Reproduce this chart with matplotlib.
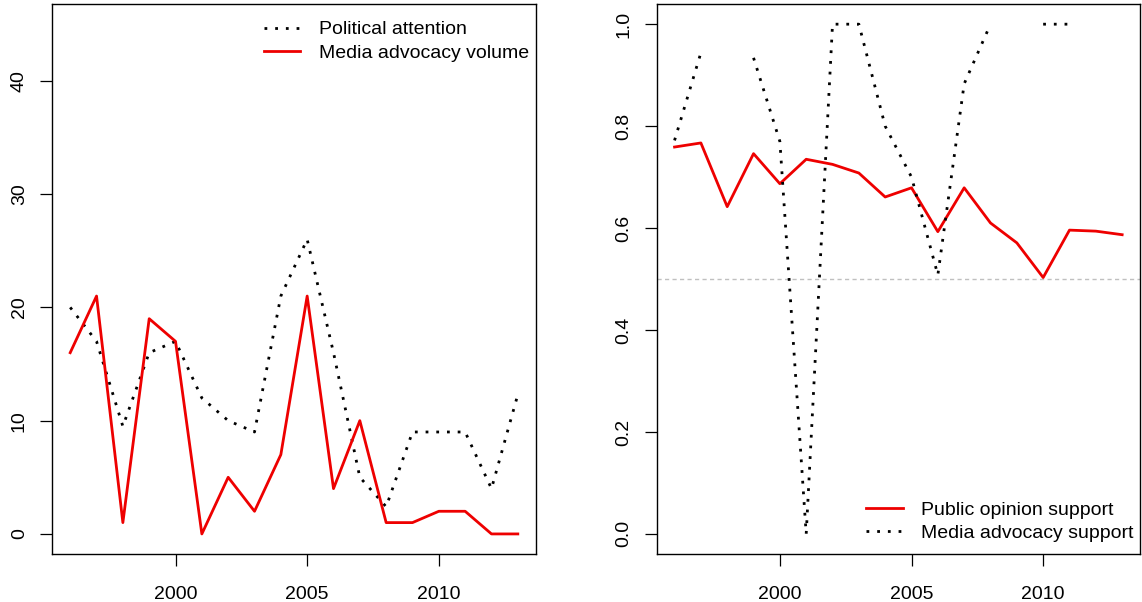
import numpy as np
import matplotlib
matplotlib.use("Agg")
import matplotlib.pyplot as plt

plt.rcParams['font.family'] = ['Liberation Sans', 'DejaVu Sans']

years = list(range(1996, 2014))

# left panel
political_attention = [20, 17, 9.5, 16, 17, 12, 10, 9, 21, 26, 16, 5, 2.4, 9, 9, 9, 4, 12.3]
advocacy_volume = [16, 21, 1, 19, 17, 0, 5, 2, 7, 21, 4, 10, 1, 1, 2, 2, 0, 0]

# right panel (nan = no value)
public_support = [0.759, 0.767, 0.642, 0.746, 0.687, 0.735, 0.725, 0.708, 0.661,
                  0.679, 0.593, 0.679, 0.610, 0.571, 0.503, 0.596, 0.594, 0.587]
advocacy_support = [0.772, 0.944, np.nan, 0.934, 0.77, 0.0, 1.0, 1.0, 0.80,
                    0.70, 0.508, 0.883, 1.0, np.nan, 1.0, 1.0, np.nan, np.nan]

red = '#ee0000'
dotted = (0, (1, 2.85))
fs = 14

fig = plt.figure(figsize=(11.42, 6.02), dpi=100)
ax1 = fig.add_axes([0.0458, 0.0792, 0.4233, 0.9145])
ax2 = fig.add_axes([0.5750, 0.0792, 0.4233, 0.9145])


def style_axes(ax):
    ax.set_xlim(1995.32, 2013.68)
    ax.set_xticks([2000, 2005, 2010])
    for s in ax.spines.values():
        s.set_linewidth(1.0)
        s.set_color('black')
    ax.tick_params(axis='both', length=8.6, width=0.9, labelsize=fs, colors='black')
    ax.tick_params(axis='x', pad=14)
    ax.tick_params(axis='y', pad=9, labelrotation=90)
    for lab in ax.get_yticklabels():
        lab.set_va('center')


ax1.plot(years, political_attention, color='black', lw=2, linestyle=dotted,
         label='Political attention')
ax1.plot(years, advocacy_volume, color=red, lw=2, label='Media advocacy volume')
ax1.set_ylim(-1.8, 46.8)
ax1.set_yticks([0, 10, 20, 30, 40])
style_axes(ax1)
ax1.legend(loc='upper left', bbox_to_anchor=(0.437, 0.969), frameon=False,
           fontsize=fs, borderpad=0, borderaxespad=0, handlelength=1.9,
           handletextpad=0.93, labelspacing=0.3)

ax2.axhline(0.5, color='#c0c0c0', lw=1, linestyle=(0, (3, 2.4)))
ax2.plot(years, public_support, color=red, lw=2, label='Public opinion support')
ax2.plot(years, advocacy_support, color='black', lw=2, linestyle=dotted,
         label='Media advocacy support')
ax2.set_ylim(-0.04, 1.04)
ax2.set_yticks([0.0, 0.2, 0.4, 0.6, 0.8, 1.0])
ax2.set_yticklabels(['0.0', '0.2', '0.4', '0.6', '0.8', '1.0'])
style_axes(ax2)
ax2.legend(loc='lower left', bbox_to_anchor=(0.433, 0.022), frameon=False,
           fontsize=fs, borderpad=0, borderaxespad=0, handlelength=1.9,
           handletextpad=0.93, labelspacing=0.3)

fig.savefig('out.png', dpi=100)
